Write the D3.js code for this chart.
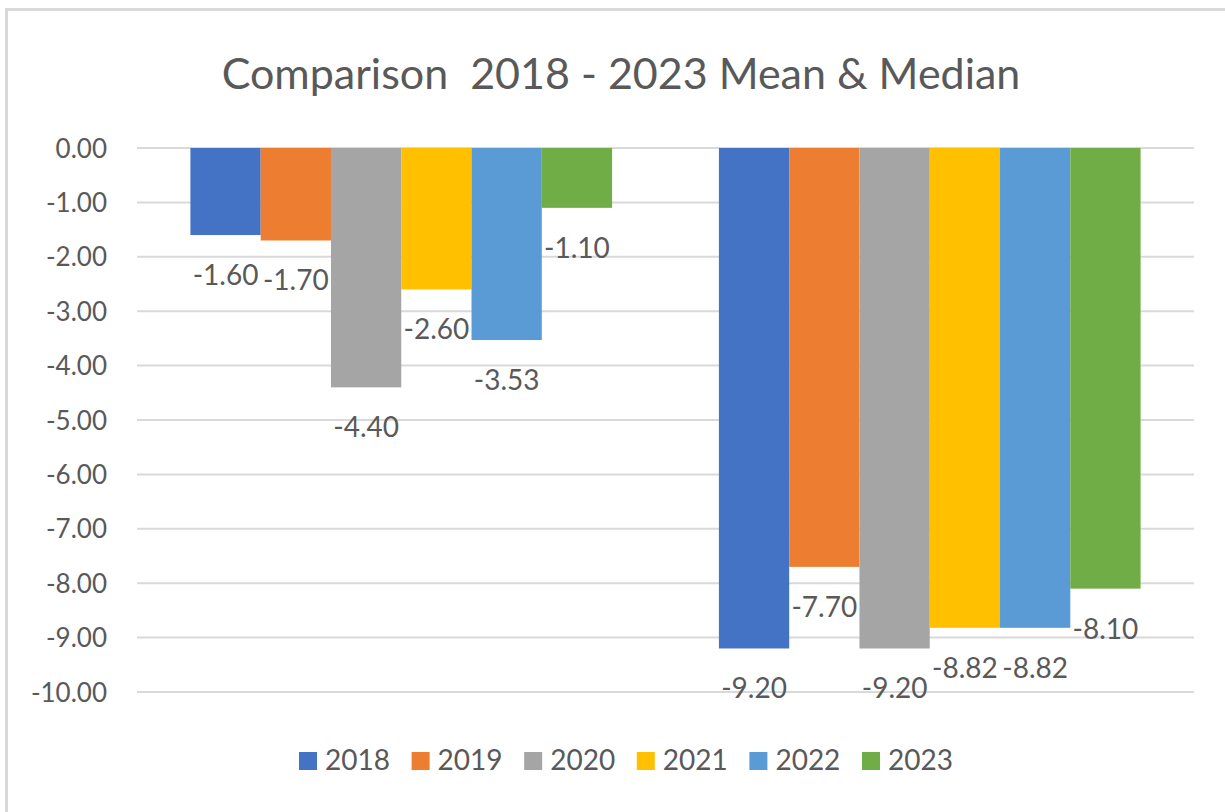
<!DOCTYPE html>
<html>
<head>
<meta charset="utf-8">
<script src="https://cdn.jsdelivr.net/npm/d3@7"></script>
<style>
  html, body { margin: 0; padding: 0; background: #ffffff; }
  svg { display: block; }
  text { font-family: Lato, "Open Sans", sans-serif; fill: #595959; }
</style>
</head>
<body>
<svg id="chart" width="1225" height="812"></svg>
<script>
// ---- data ----
const categories = ["Mean", "Median"];
const seriesNames = ["2018", "2019", "2020", "2021", "2022", "2023"];
const meanValues = [-1.60, -1.70, -4.40, -2.60, -3.53, -1.10];
const medianValues = [-9.20, -7.70, -9.20, -8.82, -8.82, -8.10];
const yTicks = [0, -1, -2, -3, -4, -5, -6, -7, -8, -9, -10];
const colors = ["#4472C4", "#ED7D31", "#A5A5A5", "#FFC000", "#5B9BD5", "#70AD47"];
const titleText = "Comparison  2018 - 2023 Mean & Median";

const valuesByCategory = [meanValues, medianValues];

// ---- layout ----
const svg = d3.select("#chart");
const W = 1225, H = 812;
const plot = { left: 137, right: 1194, top: 148, bottom: 692 };

// chart border
svg.append("rect")
  .attr("x", 6.5).attr("y", 9.5)
  .attr("width", W + 20).attr("height", H + 20)
  .attr("fill", "none").attr("stroke", "#d9d9d9").attr("stroke-width", 3);

// title
svg.append("text")
  .attr("x", 621).attr("y", 89)
  .attr("text-anchor", "middle")
  .style("font-size", "43px")
  .style("white-space", "pre")
  .text(titleText);

// scales
const y = d3.scaleLinear().domain([-10, 0]).range([plot.bottom, plot.top]);
const x0 = d3.scaleBand().domain(categories).range([plot.left, plot.right]).paddingInner(0).paddingOuter(0);
const x1 = d3.scaleBand().domain(seriesNames).range([0, x0.bandwidth()]).paddingInner(0).paddingOuter(0.76);

const fmt = v => d3.format(".2f")(v).replace("\u2212", "-");

// gridlines
svg.append("g").selectAll("line").data(yTicks).join("line")
  .attr("x1", plot.left).attr("x2", plot.right)
  .attr("y1", d => y(d)).attr("y2", d => y(d))
  .attr("stroke", "#d9d9d9").attr("stroke-width", 2);

// y axis labels
const yAxis = d3.axisLeft(y).tickValues(yTicks).tickFormat(fmt).tickSize(0).tickPadding(0);
const gy = svg.append("g").attr("transform", "translate(107,0)").call(yAxis);
gy.select(".domain").remove();
gy.selectAll("text")
  .style("font-family", "Lato, 'Open Sans', sans-serif")
  .style("font-size", "26px").attr("fill", "#595959").attr("dy", "0.35em");

// bars
const groups = svg.append("g").selectAll("g").data(categories).join("g")
  .attr("transform", d => `translate(${x0(d)},0)`);

groups.selectAll("rect")
  .data((d, ci) => seriesNames.map((s, i) => ({ s, i, v: valuesByCategory[ci][i] })))
  .join("rect")
  .attr("x", d => x1(d.s))
  .attr("width", x1.bandwidth())
  .attr("y", y(0))
  .attr("height", d => y(d.v) - y(0))
  .attr("fill", d => colors[d.i]);

// value labels
groups.selectAll("text.val")
  .data((d, ci) => seriesNames.map((s, i) => ({ s, i, v: valuesByCategory[ci][i] })))
  .join("text")
  .attr("class", "val")
  .attr("x", d => x1(d.s) + x1.bandwidth() / 2)
  .attr("y", d => y(d.v) + 50)
  .attr("text-anchor", "middle")
  .style("font-size", "28px")
  .text(d => fmt(d.v));

// legend
const legend = svg.append("g");
const legendX = d3.scaleLinear().domain([0, seriesNames.length - 1]).range([299, 862]);
const items = legend.selectAll("g").data(seriesNames).join("g")
  .attr("transform", (d, i) => `translate(${legendX(i)},752)`);
items.append("rect").attr("width", 18).attr("height", 18).attr("fill", (d, i) => colors[i]);
items.append("text").attr("x", 26).attr("y", 18).style("font-size", "28px").text(d => d);
</script>
</body>
</html>
